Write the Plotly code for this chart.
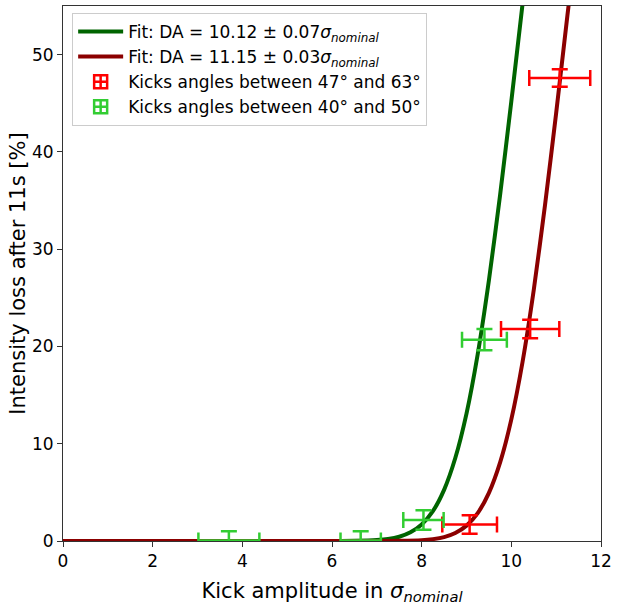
import plotly.graph_objects as go

# Measured points: kicks 47-63 deg (red)
red_x = [9.07, 10.42, 11.08]
red_xerr = [0.61, 0.65, 0.68]
red_y = [1.7, 21.8, 47.6]
red_yerr = [0.95, 0.95, 0.9]

# Measured points: kicks 40-50 deg (green)
green_x = [3.70, 6.64, 8.04, 9.40]
green_xerr = [0.68, 0.45, 0.45, 0.50]
green_y = [0.05, 0.05, 2.15, 20.7]
green_yerr = [0.95, 0.95, 1.0, 1.1]

# Fit curves
fit_green_x = [0, 6.0, 6.5, 7.0, 7.25, 7.5, 7.75, 8.0, 8.25, 8.5, 8.75, 9.0, 9.25, 9.5, 9.75, 10.0, 10.25, 10.5]
fit_green_y = [0, 0.002, 0.015, 0.09, 0.2, 0.44, 0.89, 1.7, 3.07, 5.26, 8.53, 13.1, 19.2, 26.8, 35.6, 45.2, 55.2, 64.8]
fit_red_x = [0, 7.0, 7.5, 8.0, 8.25, 8.5, 8.75, 9.0, 9.25, 9.5, 9.75, 10.0, 10.25, 10.5, 10.75, 11.0, 11.25, 11.5]
fit_red_y = [0, 0.002, 0.013, 0.08, 0.19, 0.40, 0.82, 1.58, 2.87, 4.95, 8.08, 12.5, 18.4, 25.8, 34.5, 44.0, 54.0, 63.7]

x_ticks = [0, 2, 4, 6, 8, 10, 12]
y_ticks = [0, 10, 20, 30, 40, 50]

RED = "#FF0000"
LGREEN = "#32CD32"
DGREEN = "#006400"
DRED = "#8B0000"

fig = go.Figure()

# fit curves
fig.add_trace(go.Scatter(
    x=fit_green_x, y=fit_green_y, mode="lines",
    line=dict(color=DGREEN, width=4, shape="spline", smoothing=0.6),
    name="Fit: DA = 10.12 ± 0.07<i>σ<sub>nominal</sub></i>"))
fig.add_trace(go.Scatter(
    x=fit_red_x, y=fit_red_y, mode="lines",
    line=dict(color=DRED, width=4, shape="spline", smoothing=0.6),
    name="Fit: DA = 11.15 ± 0.03<i>σ<sub>nominal</sub></i>"))

# error bars (drawn above the curves)
fig.add_trace(go.Scatter(
    x=red_x, y=red_y, mode="markers", marker=dict(size=0.1, color=RED),
    error_x=dict(type="data", array=red_xerr, color=RED, thickness=2.5, width=8),
    error_y=dict(type="data", array=red_yerr, color=RED, thickness=2.5, width=8),
    showlegend=False, hoverinfo="skip"))
fig.add_trace(go.Scatter(
    x=green_x, y=green_y, mode="markers", marker=dict(size=0.1, color=LGREEN),
    error_x=dict(type="data", array=green_xerr, color=LGREEN, thickness=2.5, width=8),
    error_y=dict(type="data", array=green_yerr, color=LGREEN, thickness=2.5, width=8),
    showlegend=False, hoverinfo="skip"))

# legend entries for the points
fig.add_trace(go.Scatter(
    x=[None], y=[None], mode="markers",
    marker=dict(symbol="square-cross-open", size=13, color=RED, line=dict(width=2.5, color=RED)),
    name="Kicks angles between 47° and 63°"))
fig.add_trace(go.Scatter(
    x=[None], y=[None], mode="markers",
    marker=dict(symbol="square-cross-open", size=13, color=LGREEN, line=dict(width=2.5, color=LGREEN)),
    name="Kicks angles between 40° and 50°"))

axis_common = dict(
    showgrid=False, zeroline=False, showline=True, linecolor="#333", linewidth=1,
    mirror=True, ticks="outside", ticklen=5, tickwidth=1, tickcolor="#333",
    tickfont=dict(size=17, color="black"),
)

fig.update_layout(
    width=617, height=610,
    margin=dict(l=63, r=14, t=5, b=69),
    paper_bgcolor="white", plot_bgcolor="white",
    font=dict(family="DejaVu Sans", color="black"),
    xaxis=dict(range=[0, 12], tickvals=x_ticks,
               title=dict(text="Kick amplitude in <i>σ<sub>nominal</sub></i>", font=dict(size=21), standoff=12),
               **axis_common),
    yaxis=dict(range=[0, 55], tickvals=y_ticks,
               title=dict(text="Intensity loss after 11s [%]", font=dict(size=21), standoff=0),
               **axis_common),
    legend=dict(x=0.017, y=0.987, xanchor="left", yanchor="top",
                bgcolor="white", bordercolor="#cccccc", borderwidth=1,
                font=dict(size=17), tracegroupgap=0, itemwidth=45),
)

fig.write_html("out.html")
